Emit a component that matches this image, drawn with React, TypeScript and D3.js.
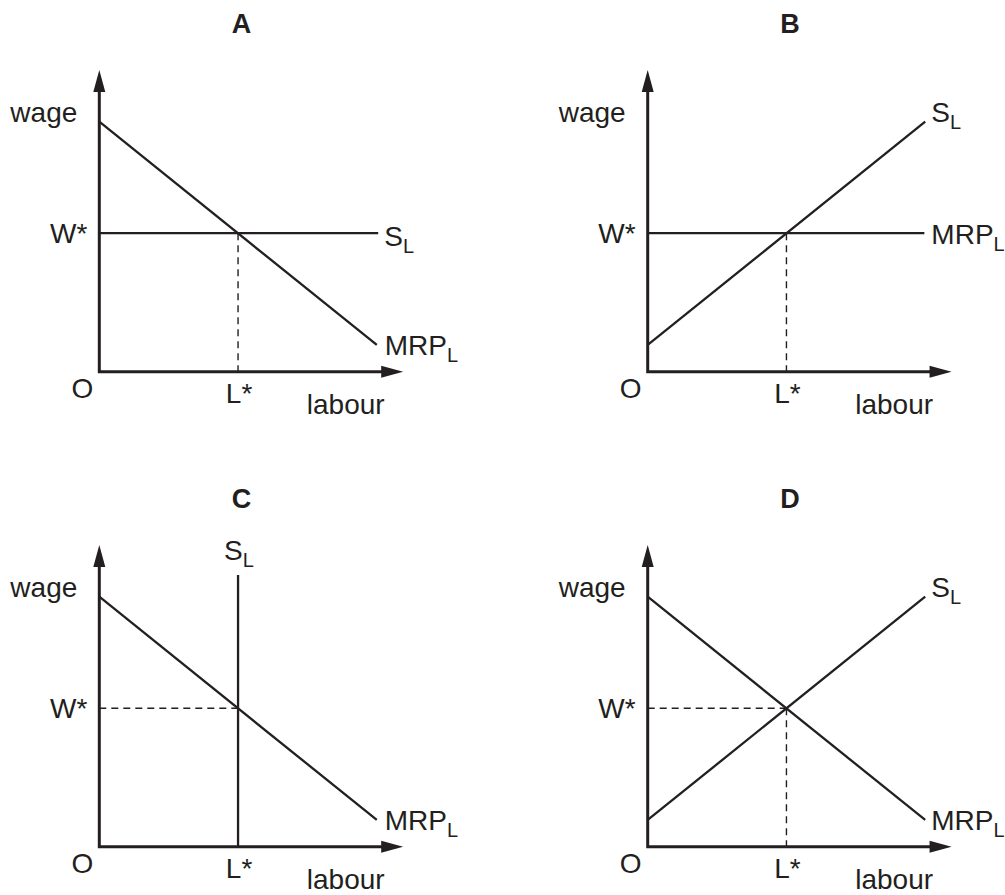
import React from 'react';
import * as d3 from 'd3';

// ---- text ----
const panelLetters = ['A', 'B', 'C', 'D'];
const yAxisLabel = 'wage';
const xAxisLabel = 'labour';
const originLabel = 'O';
const wStarLabel = 'W*';
const lStarLabel = 'L*';
const mrpName = 'MRP';
const supplyName = 'S';
const subName = 'L';

// ---- data (axis units 0..10) ----
const W_STAR = 5.54;
const L_STAR = 5;
const Y_AXIS_TIP = 12.07;
const X_AXIS_TIP = 10.95;
const mrpFalling: [number, number][] = [[0, 10], [10, 1.07]];
const supplyRising: [number, number][] = [[0, 1.07], [10, 10]];
const flatAtWStarA: [number, number][] = [[0, W_STAR], [10.05, W_STAR]];
const flatAtWStarB: [number, number][] = [[0, W_STAR], [9.97, W_STAR]];
const verticalAtLStar: [number, number][] = [[L_STAR, 0], [L_STAR, 10.87]];

type CurveSpec = { pts: [number, number][]; name: string; dx: number; dy: number };
type PanelSpec = {
  letter: string;
  ox: number;
  oy: number;
  curves: CurveSpec[];
  dashV: boolean;
  dashH: boolean;
};

const panels: PanelSpec[] = [
  {
    letter: panelLetters[0], ox: 99.3, oy: 371.7,
    curves: [
      { pts: mrpFalling, name: mrpName, dx: 8, dy: 10 },
      { pts: flatAtWStarA, name: supplyName, dx: 6, dy: 13 },
    ],
    dashV: true, dashH: false,
  },
  {
    letter: panelLetters[1], ox: 647.7, oy: 371.7,
    curves: [
      { pts: supplyRising, name: supplyName, dx: 6, dy: 0 },
      { pts: flatAtWStarB, name: mrpName, dx: 7, dy: 11 },
    ],
    dashV: true, dashH: false,
  },
  {
    letter: panelLetters[2], ox: 99.3, oy: 846.7,
    curves: [
      { pts: mrpFalling, name: mrpName, dx: 8, dy: 10 },
      { pts: verticalAtLStar, name: supplyName, dx: -14, dy: -15 },
    ],
    dashV: false, dashH: true,
  },
  {
    letter: panelLetters[3], ox: 647.7, oy: 846.7,
    curves: [
      { pts: mrpFalling, name: mrpName, dx: 6, dy: 10 },
      { pts: supplyRising, name: supplyName, dx: 6, dy: 0 },
    ],
    dashV: true, dashH: true,
  },
];

const INK = '#231f20';
const FONT = '"Liberation Sans", Arial, Helvetica, sans-serif';
const FS = 28;
const SUB_FS = 20;
const X_PX = 277.5; // px per 10 units
const Y_PX = 250;
const ARROW_LEN = 22;
const ARROW_HW = 6;

function Panel({ p }: { p: PanelSpec }) {
  const x = d3.scaleLinear().domain([0, 10]).range([p.ox, p.ox + X_PX]);
  const y = d3.scaleLinear().domain([0, 10]).range([p.oy, p.oy - Y_PX]);
  const line = d3.line<[number, number]>().x((d) => x(d[0])).y((d) => y(d[1]));

  const yTip = y(Y_AXIS_TIP);
  const xTip = x(X_AXIS_TIP);
  const x0 = x(0);
  const y0 = y(0);

  const axisPath = `M${x0},${yTip + ARROW_LEN - 2}L${x0},${y0}L${xTip - ARROW_LEN + 2},${y0}`;
  const upArrow = `M${x0},${yTip}L${x0 + ARROW_HW},${yTip + ARROW_LEN}L${x0 - ARROW_HW},${yTip + ARROW_LEN}Z`;
  const rightArrow = `M${xTip},${y0}L${xTip - ARROW_LEN},${y0 - ARROW_HW}L${xTip - ARROW_LEN},${y0 + ARROW_HW}Z`;

  return (
    <g>
      <text x={x0 + 142.3} y={y0 - 338.7} textAnchor="middle" fontFamily={FONT} fontWeight="bold" fontSize={27} fill={INK}>
        {p.letter}
      </text>
      {p.dashV && (
        <path d={line([[L_STAR, W_STAR], [L_STAR, 0]])!} stroke={INK} strokeWidth={1.4} strokeDasharray="7,5" fill="none" />
      )}
      {p.dashH && (
        <path d={line([[0, W_STAR], [L_STAR, W_STAR]])!} stroke={INK} strokeWidth={1.4} strokeDasharray="7,5" fill="none" />
      )}
      {p.curves.map((c, i) => {
        const end = c.pts[c.pts.length - 1];
        return (
          <g key={i}>
            <path d={line(c.pts)!} stroke={INK} strokeWidth={2.3} fill="none" />
            <text x={x(end[0]) + c.dx} y={y(end[1]) + c.dy} fontFamily={FONT} fontSize={FS} fill={INK}>
              <tspan>{c.name}</tspan>
              <tspan fontSize={SUB_FS} dy={7}>{subName}</tspan>
            </text>
          </g>
        );
      })}
      <path d={axisPath} stroke={INK} strokeWidth={3} fill="none" strokeLinejoin="miter" />
      <path d={upArrow} fill={INK} />
      <path d={rightArrow} fill={INK} />
      <text x={x0 - 22} y={y(10) + 0.7} textAnchor="end" fontFamily={FONT} fontSize={FS} fill={INK}>{yAxisLabel}</text>
      <text x={x0 - 12} y={y(W_STAR) + 10} textAnchor="end" fontFamily={FONT} fontSize={FS} fill={INK}>{wStarLabel}</text>
      <text x={x0 - 17} y={y0 + 26} textAnchor="middle" fontFamily={FONT} fontSize={FS} fill={INK}>{originLabel}</text>
      <text x={x(L_STAR) + 1} y={y0 + 31} textAnchor="middle" fontFamily={FONT} fontSize={FS} fill={INK}>{lStarLabel}</text>
      <text x={x0 + 207.5} y={y0 + 42} fontFamily={FONT} fontSize={FS} fill={INK}>{xAxisLabel}</text>
    </g>
  );
}

export default function App() {
  return (
    <svg width={1005} height={895} style={{ position: 'absolute', left: 0, top: 0, background: '#fff' }}>
      <rect width={1005} height={895} fill="#fff" />
      {panels.map((p) => (
        <Panel key={p.letter} p={p} />
      ))}
    </svg>
  );
}
